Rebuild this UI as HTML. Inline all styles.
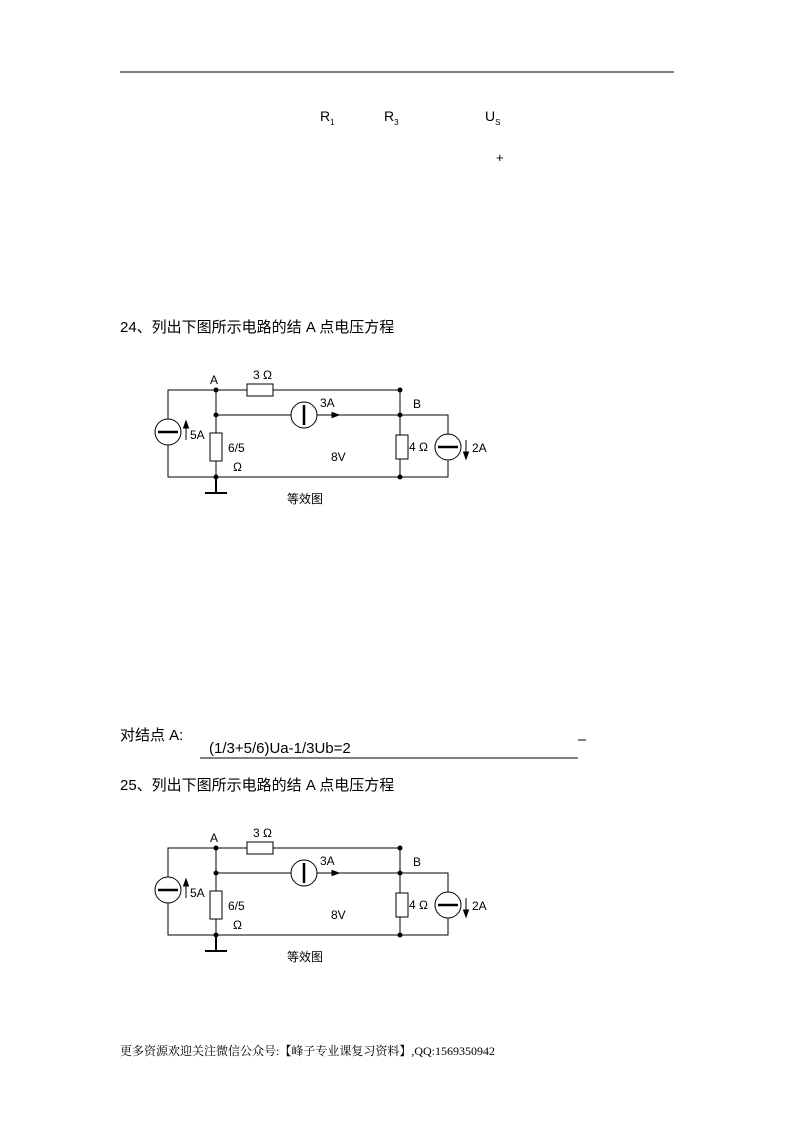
<!DOCTYPE html>
<html><head><meta charset="utf-8"><style>
body{margin:0;width:793px;height:1122px;background:#fff;position:relative;font-family:"Liberation Sans","Noto Sans CJK SC",sans-serif;color:#000}
.t{position:absolute;white-space:nowrap;font-size:15px}
svg{position:absolute;left:0;top:0}
</style></head><body>
<svg width="793" height="1122" viewBox="0 0 793 1122">
<line x1="120" y1="72" x2="674" y2="72" stroke="#000" stroke-width="1"/>
<defs>
<g id="c" stroke="#000" stroke-width="1" fill="none" font-family="Liberation Sans, DejaVu Sans, sans-serif">
<path d="M168 419 V390 H247 M273 390 H400 V477 H168 V445"/>
<path d="M216 390 V433 M216 461 V477 M216 415 H291 M317 415 H448 V434 M448 460 V477 H400 M400 415 V435"/>
<path d="M216 477 V493 M205 493 H227" stroke-width="2"/>
<rect x="247" y="384" width="26" height="12" fill="#fff"/>
<rect x="210" y="433" width="12" height="28" fill="#fff"/>
<rect x="396" y="435" width="12" height="24" fill="#fff"/>
<circle cx="168" cy="432" r="13" fill="#fff"/>
<line x1="158" y1="432" x2="178" y2="432" stroke-width="2.5"/>
<circle cx="304" cy="415" r="13" fill="#fff"/>
<line x1="304" y1="405" x2="304" y2="425" stroke-width="2.5"/>
<circle cx="448" cy="447" r="13" fill="#fff"/>
<line x1="438" y1="447" x2="458" y2="447" stroke-width="2.5"/>
<path d="M186 440 V426"/><path d="M183.5 428 L186 421 L188.5 428Z" fill="#000"/>
<path d="M466 440 V454"/><path d="M463.5 452 L466 459 L468.5 452Z" fill="#000"/>
<path d="M320 415 H334"/><path d="M332 412.5 L339 415 L332 417.5Z" fill="#000"/>
<g fill="#000" stroke="none">
<circle cx="216" cy="390" r="2.5"/><circle cx="216" cy="415" r="2.5"/><circle cx="216" cy="477" r="2.5"/>
<circle cx="400" cy="390" r="2.5"/><circle cx="400" cy="415" r="2.5"/><circle cx="400" cy="477" r="2.5"/>
<text x="210" y="384" font-size="12">A</text>
<text x="253" y="379" font-size="12">3 Ω</text>
<text x="320" y="407" font-size="12">3A</text>
<text x="413" y="408" font-size="12">B</text>
<text x="190" y="439" font-size="12">5A</text>
<text x="228" y="452" font-size="12">6/5</text>
<text x="233" y="471" font-size="12">Ω</text>
<text x="331" y="461" font-size="12">8V</text>
<text x="409" y="451" font-size="12">4 Ω</text>
<text x="472" y="452" font-size="12">2A</text>
<text x="287" y="503" font-size="12" font-family="Noto Sans CJK SC, sans-serif">等效图</text>
</g>
</g>
</defs>
<use href="#c"/>
<use href="#c" transform="translate(0,458)"/>
<line x1="200" y1="758" x2="578" y2="758" stroke="#000"/>
<line x1="578" y1="740" x2="586" y2="740" stroke="#000"/>
</svg>
<div class="t" style="left:320px;top:108px;font-size:14px">R<sub style="font-size:8px">1</sub></div>
<div class="t" style="left:384px;top:108px;font-size:14px">R<sub style="font-size:8px">3</sub></div>
<div class="t" style="left:485px;top:108px;font-size:14px">U<sub style="font-size:8px">S</sub></div>
<div class="t" style="left:496px;top:150px;font-size:13px">+</div>
<div class="t" style="left:120px;top:316px">24、列出下图所示电路的结 A 点电压方程</div>
<div class="t" style="left:120px;top:724px">对结点 A:</div>
<div class="t" style="left:209px;top:740px">(1/3+5/6)Ua-1/3Ub=2</div>
<div class="t" style="left:120px;top:774px">25、列出下图所示电路的结 A 点电压方程</div>
<div class="t" style="left:120px;top:1042px;font-size:12px;font-family:'Liberation Serif','Noto Serif CJK SC',serif">更多资源欢迎关注微信公众号:【峰子专业课复习资料】,QQ:1569350942</div>
</body></html>
